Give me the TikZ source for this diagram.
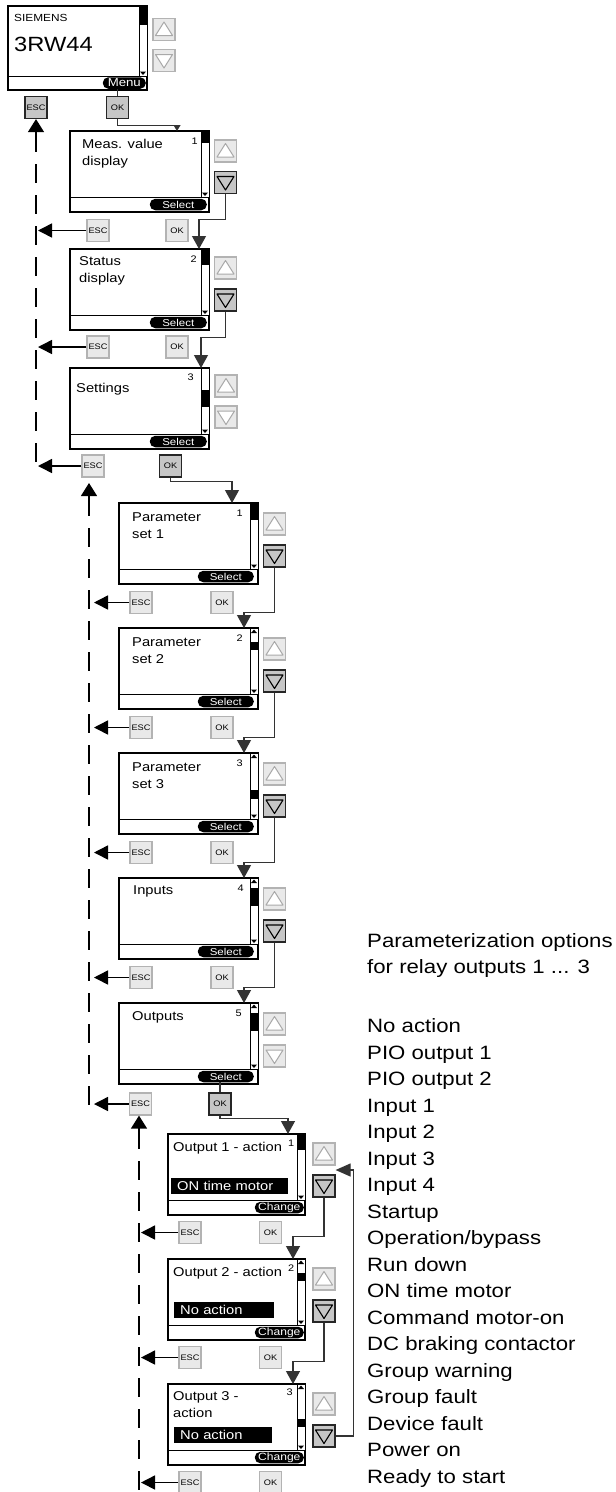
\documentclass[tikz,border=0pt]{standalone}
\usepackage{fontspec}
\setmainfont[FakeStretch=1.15]{Liberation Sans}
\usetikzlibrary{arrows.meta,calc}

\definecolor{keylightfill}{HTML}{E9E9E9}
\definecolor{keylightdraw}{HTML}{B3B3B3}
\definecolor{keydarkfill}{HTML}{C6C6C6}
\definecolor{trilight}{HTML}{A9A9A9}
\definecolor{linegray}{HTML}{333333}

\tikzset{
  screen/.style={draw=black, line width=1.3pt, fill=white, inner sep=0pt, outer sep=0pt, anchor=north west},
  keylight/.style={draw=keylightdraw, fill=keylightfill, line width=1.2pt, minimum size=22pt, inner sep=0pt, font=\fontsize{8}{8}\selectfont},
  keydark/.style={draw=black!85, fill=keydarkfill, line width=1.2pt, minimum size=22pt, inner sep=0pt, font=\fontsize{8}{8}\selectfont},
  trikeylight/.style={draw=trilight, fill=white, line width=1pt, line join=round},
  trikeydark/.style={draw=black, fill=keydarkfill, line width=1.1pt, line join=round},
  pill/.style={fill=black, text=white, rounded corners=5.5pt, inner sep=0pt, minimum height=11.5pt, anchor=east, font=\fontsize{10}{10}\selectfont},
  scrtext/.style={anchor=base west, inner sep=0pt, font=\fontsize{12.8}{17}\selectfont},
  numtext/.style={anchor=base east, inner sep=0pt, font=\fontsize{9.5}{10}\selectfont},
  suptext/.style={anchor=base west, inner sep=0pt, font=\fontsize{9.5}{10}\selectfont},
  hbar/.style={fill=black, text=white, anchor=west, inner xsep=6pt, inner ysep=0pt, minimum height=16pt, align=left, font=\fontsize{12.8}{14}\selectfont},
  listtext/.style={anchor=base west, inner sep=0pt, font=\fontsize{19.3}{24}\selectfont},
  conn/.style={draw=linegray, line width=1.2pt},
  bigtip/.style={-{Triangle[width=14pt,length=13pt]}},
  escarrow/.style={draw=black, line width=1.5pt, -{Triangle[width=14pt,length=14pt]}},
  uparrow/.style={draw=black, line width=1.3pt, -{Triangle[width=16pt,length=13pt]}},
  dashline/.style={draw=black, line width=1.3pt, dash pattern=on 19pt off 12pt},
}

% #1 name, #2 x, #3 y, #4 width, #5 height, #6 separator, #7 thumb top, #8 thumb bottom
\newcommand{\mkscreen}[8]{%
  \node[screen, minimum width=#4pt, minimum height=#5pt] (#1) at (#2,#3) {};
  \draw[line width=1pt] (#1.north west) ++(0,#6) -- ++(#4,0);
  \draw[line width=1pt, fill=white] ($(#1.north east)+(-8,0)$) rectangle ($(#1.north east)+(0,#6)$);
  \fill ($(#1.north east)+(-8,#7)$) rectangle ($(#1.north east)+(0,#8)$);
  \fill ($(#1.north east)+(-7,#6-4.5)$) -- ++(6,0) -- ++(-3,3.5) -- cycle;
}
\newcommand{\scrtop}[1]{%
  \fill ($(#1.north east)+(-7,5)$) -- ++(6,0) -- ++(-3,-3.5) -- cycle;
}
\newcommand{\upkey}[4]{%
  \node[#4] (#1) at (#2,#3) {};
  \draw[tri#4] ($(#1.center)+(-8.5,6)$) -- ($(#1.center)+(8.5,6)$) -- ($(#1.center)+(0,-7.5)$) -- cycle;
}
\newcommand{\downkey}[4]{%
  \node[#4] (#1) at (#2,#3) {};
  \draw[tri#4] ($(#1.center)+(-8.5,-6)$) -- ($(#1.center)+(8.5,-6)$) -- ($(#1.center)+(0,7.5)$) -- cycle;
}

\begin{document}
\begin{tikzpicture}[x=1pt,y=-1pt]
\useasboundingbox (0,0) rectangle (616,1492);

% ---------------- top screen ----------------
\mkscreen{T}{8}{6}{139}{84}{70}{0}{19}
\node[anchor=base west, inner sep=0pt, font=\fontsize{10.3}{11}\selectfont] (Ttitle) at (14,21) {SIEMENS};
\node[anchor=base west, inner sep=0pt, font=\fontsize{20.6}{22}\selectfont] (Tname) at (14,51.5) {3RW44};
\node[pill, minimum width=43pt, font=\fontsize{11.5}{11}\selectfont] (Tp) at ($(T.south east)+(-1,-7)$) {Menu};
\upkey{Tu}{164}{29.5}{keylight}
\downkey{Td}{164}{60.5}{keylight}
\node[keydark] (esc0) at (36,107.5) {ESC};
\node[keydark] (ok0) at (117.5,107.5) {OK};
\draw[conn] (ok0.north) -- (ok0.north |- Tp.south);

% ---------------- level 1 ----------------
\mkscreen{s1}{70}{131}{139}{81}{66}{0}{12}
\node[scrtext] (s1t1) at ($(s1.north west)+(12,17)$) {Meas. value};
\node[scrtext] (s1t2) at ($(s1.north west)+(12,34)$) {display};
\node[numtext] (s1n) at ($(s1.north east)+(-11,13)$) {1};
\node[pill, minimum width=57pt] (s1p) at ($(s1.south east)+(-2,-7.5)$) {Select};
\upkey{s1u}{225.5}{151}{keylight}
\downkey{s1d}{225.5}{182.5}{keydark}
\node[keylight] (esc1) at (98,230.5) {ESC};
\node[keylight] (ok1) at (177,230.5) {OK};

\mkscreen{s2}{70}{249}{139}{81}{66}{0}{16}
\node[scrtext] (s2t1) at ($(s2.north west)+(9,16)$) {Status};
\node[scrtext] (s2t2) at ($(s2.north west)+(9,33)$) {display};
\node[numtext] (s2n) at ($(s2.north east)+(-12,13)$) {2};
\node[pill, minimum width=57pt] (s2p) at ($(s2.south east)+(-2,-7.5)$) {Select};
\upkey{s2u}{225.5}{268}{keylight}
\downkey{s2d}{225.5}{300}{keydark}
\node[keylight] (esc2) at (98,347) {ESC};
\node[keylight] (ok2) at (177,347) {OK};

\mkscreen{s3}{70}{368}{139}{81}{66}{22}{39}
\node[scrtext] (s3t1) at ($(s3.north west)+(6,24)$) {Settings};
\node[numtext] (s3n) at ($(s3.north east)+(-15,12)$) {3};
\node[pill, minimum width=57pt] (s3p) at ($(s3.south east)+(-2,-7.5)$) {Select};
\upkey{s3u}{226}{386}{keylight}
\downkey{s3d}{226}{417}{keylight}
\node[keylight] (esc3) at (93,466) {ESC};
\node[keydark] (ok3) at (170.5,466) {OK};

% ---------------- level 2 ----------------
\mkscreen{p1}{119}{503}{139}{81}{66}{0}{17}
\node[scrtext] (p1t1) at ($(p1.north west)+(13,18)$) {Parameter};
\node[scrtext] (p1t2) at ($(p1.north west)+(13,35)$) {set 1};
\node[numtext] (p1n) at ($(p1.north east)+(-15,13)$) {1};
\node[pill, minimum width=56pt] (p1p) at ($(p1.south east)+(-4,-7.5)$) {Select};
\upkey{p1u}{274.5}{524}{keylight}
\downkey{p1d}{274.5}{556}{keydark}
\node[keylight] (escp1) at (141,602.5) {ESC};
\node[keylight] (okp1) at (222,602.5) {OK};

\mkscreen{p2}{119}{628}{139}{81}{66}{14}{22}
\scrtop{p2}
\node[scrtext] (p2t1) at ($(p2.north west)+(13,18)$) {Parameter};
\node[scrtext] (p2t2) at ($(p2.north west)+(13,35)$) {set 2};
\node[numtext] (p2n) at ($(p2.north east)+(-15,13)$) {2};
\node[pill, minimum width=56pt] (p2p) at ($(p2.south east)+(-4,-7.5)$) {Select};
\upkey{p2u}{274.5}{649}{keylight}
\downkey{p2d}{274.5}{681}{keydark}
\node[keylight] (escp2) at (141,727.5) {ESC};
\node[keylight] (okp2) at (222,727.5) {OK};

\mkscreen{p3}{119}{753}{139}{81}{66}{37}{46}
\scrtop{p3}
\node[scrtext] (p3t1) at ($(p3.north west)+(13,18)$) {Parameter};
\node[scrtext] (p3t2) at ($(p3.north west)+(13,35)$) {set 3};
\node[numtext] (p3n) at ($(p3.north east)+(-15,13)$) {3};
\node[pill, minimum width=56pt] (p3p) at ($(p3.south east)+(-4,-7.5)$) {Select};
\upkey{p3u}{274.5}{774}{keylight}
\downkey{p3d}{274.5}{806}{keydark}
\node[keylight] (escp3) at (141,852.5) {ESC};
\node[keylight] (okp3) at (222,852.5) {OK};

\mkscreen{p4}{119}{878}{139}{81}{66}{10}{28}
\scrtop{p4}
\node[scrtext] (p4t1) at ($(p4.north west)+(14,16)$) {Inputs};
\node[numtext] (p4n) at ($(p4.north east)+(-14,13)$) {4};
\node[pill, minimum width=56pt] (p4p) at ($(p4.south east)+(-4,-7.5)$) {Select};
\upkey{p4u}{274.5}{899}{keylight}
\downkey{p4d}{274.5}{931}{keydark}
\node[keylight] (escp4) at (141,977.5) {ESC};
\node[keylight] (okp4) at (222,977.5) {OK};

\mkscreen{p5}{119}{1003}{139}{81}{66}{10}{28}
\scrtop{p5}
\node[scrtext] (p5t1) at ($(p5.north west)+(13,17)$) {Outputs};
\node[numtext] (p5n) at ($(p5.north east)+(-16,13)$) {5};
\node[pill, minimum width=56pt] (p5p) at ($(p5.south east)+(-4,-7.5)$) {Select};
\upkey{p5u}{274.5}{1024}{keylight}
\downkey{p5d}{274.5}{1056}{keylight}
\node[keylight] (escp5) at (140.5,1104) {ESC};
\node[keydark] (okp5) at (220,1104) {OK};
\draw[conn] (okp5.north) -- (okp5.north |- p5p.south);

% ---------------- level 3 ----------------
\mkscreen{o1}{168}{1134}{137}{81}{66}{0}{16}
\node[scrtext] (o1t1) at ($(o1.north west)+(5,17)$) {Output 1 - action};
\node[suptext] (o1n) at ($(o1.north west)+(120,12)$) {1};
\node[hbar, text width=105pt] (o1bar) at ($(o1.north west)+(3,52)$) {ON time motor};
\node[pill, minimum width=49pt, font=\fontsize{10.5}{10}\selectfont] (o1p) at ($(o1.south east)+(-1,-7.5)$) {Change};
\upkey{o1u}{324}{1154}{keylight}
\downkey{o1d}{324}{1186}{keydark}
\node[keylight] (esco1) at (190,1232.5) {ESC};
\node[keylight] (oko1) at (270.5,1232.5) {OK};

\mkscreen{o2}{168}{1259}{137}{81}{66}{14}{22}
\scrtop{o2}
\node[scrtext] (o2t1) at ($(o2.north west)+(5,17)$) {Output 2 - action};
\node[suptext] (o2n) at ($(o2.north west)+(120,12)$) {2};
\node[hbar, text width=88pt] (o2bar) at ($(o2.north west)+(6,51)$) {No action};
\node[pill, minimum width=49pt, font=\fontsize{10.5}{10}\selectfont] (o2p) at ($(o2.south east)+(-1,-7.5)$) {Change};
\upkey{o2u}{324}{1279}{keylight}
\downkey{o2d}{324}{1311}{keydark}
\node[keylight] (esco2) at (190,1357.5) {ESC};
\node[keylight] (oko2) at (270.5,1357.5) {OK};

\mkscreen{o3}{168}{1384}{137}{81}{66}{35}{43}
\scrtop{o3}
\node[scrtext] (o3t1) at ($(o3.north west)+(5,16)$) {Output 3 -};
\node[scrtext] (o3t2) at ($(o3.north west)+(5,33)$) {action};
\node[numtext] (o3n) at ($(o3.north east)+(-12,11)$) {3};
\node[hbar, text width=86pt] (o3bar) at ($(o3.north west)+(6,50.5)$) {No action};
\node[pill, minimum width=49pt, font=\fontsize{10.5}{10}\selectfont] (o3p) at ($(o3.south east)+(-1,-7.5)$) {Change};
\upkey{o3u}{324}{1404}{keylight}
\downkey{o3d}{324}{1436}{keydark}
\node[keylight] (esco3) at (190,1482.5) {ESC};
\node[keylight] (oko3) at (270.5,1482.5) {OK};

% ---------------- connectors ----------------
\draw[conn, -{Triangle[width=7pt,length=6pt]}] (ok0.south) -- ++(0,6) -| ([xshift=-32pt]s1.north east);
\draw[conn, bigtip] (s1d.south) -- ++(0,25) -| ([xshift=-10pt]s2.north east);
\draw[conn, bigtip] (s2d.south) -- ++(0,26) -| ([xshift=-8pt]s3.north east);
\draw[conn, bigtip] (ok3.south) -- ++(0,4) -| ([xshift=-26pt]p1.north east);
\draw[conn, bigtip] (p1d.south) -- ++(0,45) -| ([xshift=-14pt]p2.north east);
\draw[conn, bigtip] (p2d.south) -- ++(0,45) -| ([xshift=-14pt]p3.north east);
\draw[conn, bigtip] (p3d.south) -- ++(0,45) -| ([xshift=-14pt]p4.north east);
\draw[conn, bigtip] (p4d.south) -- ++(0,45) -| ([xshift=-14pt]p5.north east);
\draw[conn, bigtip] (okp5.south) -- ++(0,3) -| ([xshift=-17pt]o1.north east);
\draw[conn, bigtip] (o1d.south) -- ++(0,39) -| ([xshift=-12pt]o2.north east);
\draw[conn, bigtip] (o2d.south) -- ++(0,39) -| ([xshift=-12pt]o3.north east);
\coordinate (loopend) at ($(o1u.south east)!0.5!(o1d.north east)$);
\draw[conn, -{Triangle[width=13pt,length=15pt]}] (o3d.east) -- ++(18,0) |- (loopend);

% dashed return line A
\coordinate (dA1) at (36,133);
\coordinate (dA2) at (36,470);
\coordinate (tipA) at (38,0);
\draw[uparrow] (dA1) -- (esc0.south);
\draw[dashline] (dA1) -- (dA2);
\draw[escarrow] (esc1.west) -- (esc1.west -| tipA);
\draw[escarrow] (esc2.west) -- (esc2.west -| tipA);
\draw[escarrow] (esc3.west) -- (esc3.west -| tipA);

% dashed return line B
\coordinate (dB0) at (89,483);
\coordinate (dB1) at (89,497);
\coordinate (dB2) at (89,1108);
\coordinate (tipB) at (94,0);
\draw[uparrow] (dB1) -- (dB0);
\draw[dashline] (dB1) -- (dB2);
\draw[escarrow] (escp1.west) -- (escp1.west -| tipB);
\draw[escarrow] (escp2.west) -- (escp2.west -| tipB);
\draw[escarrow] (escp3.west) -- (escp3.west -| tipB);
\draw[escarrow] (escp4.west) -- (escp4.west -| tipB);
\draw[escarrow] (escp5.west) -- (escp5.west -| tipB);

% dashed return line C
\coordinate (dC1) at (139,1130);
\coordinate (dC2) at (139,1492);
\coordinate (tipC) at (141,0);
\draw[uparrow] (dC1) -- (dC1 |- escp5.south);
\draw[dashline] (dC1) -- (dC2);
\draw[escarrow] (esco1.west) -- (esco1.west -| tipC);
\draw[escarrow] (esco2.west) -- (esco2.west -| tipC);
\draw[escarrow] (esco3.west) -- (esco3.west -| tipC);

% ---------------- right-hand text ----------------
\node[listtext] (hd1) at (367,947) {Parameterization options};
\node[listtext] (hd2) at (367,973) {for relay outputs 1 ... 3};
\foreach \t [count=\i from 0] in {No action, PIO output 1, PIO output 2, Input 1, Input 2, Input 3, Input 4, Startup, Operation/bypass, Run down, ON time motor, Command motor-on, DC braking contactor, Group warning, Group fault, Device fault, Power on, Ready to start}
  \node[listtext] (opt\i) at (367,1032.5+26.5*\i) {\t};
\end{tikzpicture}
\end{document}
